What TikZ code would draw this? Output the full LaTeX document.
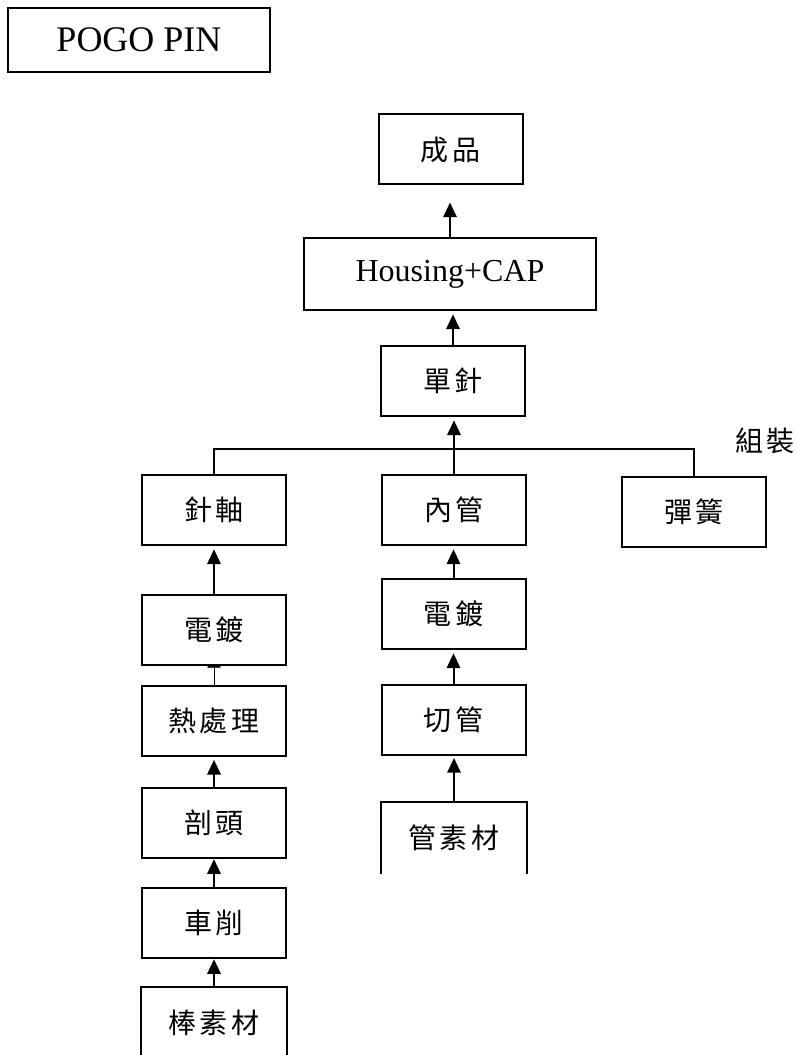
\documentclass[tikz,border=0pt]{standalone}
\usepackage{fontspec}
\setmainfont{Liberation Serif}
\newfontfamily\cjk[LetterSpace=12]{Noto Sans CJK TC}
\usetikzlibrary{arrows.meta, positioning, backgrounds}

\begin{document}
\begin{tikzpicture}[x=0.75pt, y=-0.75pt, line width=1.5pt, >={Triangle[length=11pt, width=10pt]},
    stage/.style={draw, fill=white, minimum width=108pt, minimum height=52.5pt, inner sep=0pt, font=\cjk\fontsize{21}{21}\selectfont},
    widestage/.style={stage, minimum width=219pt, minimum height=54pt, font=\fontsize{24}{24}\selectfont},
    rawbox/.style={stage, draw=none, fill=none},
    flow/.style={->, shorten >=2.5pt}]
    \tikzstyle{title} = [draw, minimum width=196.5pt, minimum height=48pt, inner sep=0pt, font=\fontsize{27}{27}\selectfont]

    \useasboundingbox (0,0) rectangle (796,1055);

    \node[title] (pogo) at (139,40) {POGO PIN};

    \node[stage] (prod) at (450.5,149.5) {成品};
    \node[widestage] (housing) at (450,274) {Housing+CAP};
    \node[stage] (single) at (453,381) {單針};

    \coordinate (join) at (453,449);
    \node[font=\cjk\fontsize{21}{21}\selectfont] (assy) at (765,441) {組裝};

    \node[stage] (shaft) at (214,510) {針軸};
    \node[stage] (tube) at (454,510) {內管};
    \node[stage] (spring) at (694,511.5) {彈簧};

    \node[stage] (plateA) at (214,630) {電鍍};
    \node[stage] (heat) at (214,720.5) {熱處理};
    \node[stage] (head) at (214,822.5) {剖頭};
    \node[stage] (turn) at (214,922.5) {車削};
    \node[rawbox] (rod) at (214,1023) {棒素材};

    \node[stage] (plateB) at (453.5,614) {電鍍};
    \node[stage] (cut) at (453.5,720) {切管};
    \node[rawbox] (rawtube) at (454,838) {管素材};

    \draw (rod.south west) |- (rod.north east) -- (rod.south east);
    \draw (rawtube.south west) |- (rawtube.north east) -- (rawtube.south east);

    \draw[flow, shorten >=12.75pt] (housing.north) -- (housing.north |- prod.south);
    \draw[flow] (single.north) -- (single.north |- housing.south);
    \draw[flow] (tube.north) -- (tube.north |- single.south);
    \draw (shaft.north) |- (join) -| (spring.north);

    \draw[flow] (plateA.north) -- (plateA.north |- shaft.south);
    \begin{scope}[on background layer]
      \draw[flow, shorten >=-9.75pt] (heat.north) -- (heat.north |- plateA.south);
    \end{scope}
    \draw[flow] (head.north) -- (head.north |- heat.south);
    \draw[flow, shorten >=0.5pt] (turn.north) -- (turn.north |- head.south);
    \draw[flow, shorten >=0.5pt] (rod.north) -- (rod.north |- turn.south);

    \draw[flow] (plateB.north) -- (plateB.north |- tube.south);
    \draw[flow] (cut.north) -- (cut.north |- plateB.south);
    \draw[flow, shorten >=1.5pt] (rawtube.north) -- (rawtube.north |- cut.south);

\end{tikzpicture}
\end{document}
